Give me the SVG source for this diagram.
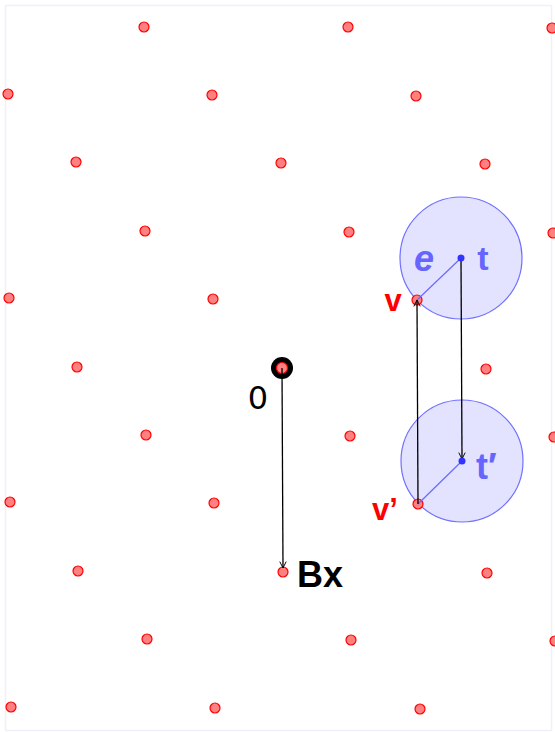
<svg xmlns="http://www.w3.org/2000/svg" width="555" height="732" viewBox="0 0 555 732">
<style>
.pt{fill:#ff8080;stroke:#ff0000;stroke-width:1.2}
.arr{stroke:#000;stroke-width:1.3;fill:none;marker-end:url(#ah)}
.disc{fill:#8080ff;fill-opacity:0.22;stroke:#7070ff;stroke-width:1.2}
.rad{stroke:#6a6aff;stroke-width:1.2}
.ctr{fill:#3333ff}
.lb{font-family:"Liberation Sans",Arial,sans-serif;font-weight:bold}
</style>
<defs>
<marker id="ah" viewBox="0 0 10 10" refX="9" refY="5" markerWidth="8" markerHeight="8" markerUnits="userSpaceOnUse" orient="auto">
<path d="M1,1 L9,5 L1,9" fill="none" stroke="#000" stroke-width="1.2"/>
</marker>
</defs>
<rect x="5.5" y="5.5" width="546" height="725" fill="#fff" stroke="#f0f0fa" stroke-width="1.5"/>
<g id="discs">
<circle class="disc" cx="461" cy="258" r="61"/>
<circle class="disc" cx="462" cy="461" r="61"/>
</g>
<g id="lattice">
<circle class="pt" cx="144" cy="27" r="5"/><circle class="pt" cx="348" cy="27" r="5"/><circle class="pt" cx="552" cy="28" r="5"/>
<circle class="pt" cx="8" cy="94" r="5"/><circle class="pt" cx="212" cy="95" r="5"/><circle class="pt" cx="416" cy="96" r="5"/>
<circle class="pt" cx="76" cy="162" r="5"/><circle class="pt" cx="281" cy="163" r="5"/><circle class="pt" cx="485" cy="164" r="5"/>
<circle class="pt" cx="145" cy="231" r="5"/><circle class="pt" cx="349" cy="232" r="5"/><circle class="pt" cx="553" cy="233" r="5"/>
<circle class="pt" cx="9" cy="298" r="5"/><circle class="pt" cx="213" cy="299" r="5"/><circle class="pt" cx="417" cy="300" r="5"/>
<circle class="pt" cx="77" cy="367" r="5"/><circle class="pt" cx="486" cy="369" r="5"/>
<circle class="pt" cx="146" cy="435" r="5"/><circle class="pt" cx="350" cy="436" r="5"/><circle class="pt" cx="554" cy="437" r="5"/>
<circle class="pt" cx="10" cy="502" r="5"/><circle class="pt" cx="214" cy="503" r="5"/><circle class="pt" cx="418" cy="504" r="5"/>
<circle class="pt" cx="78" cy="571" r="5"/><circle class="pt" cx="283" cy="572" r="5"/><circle class="pt" cx="487" cy="573" r="5"/>
<circle class="pt" cx="147" cy="639" r="5"/><circle class="pt" cx="351" cy="640" r="5"/><circle class="pt" cx="555" cy="641" r="5"/>
<circle class="pt" cx="11" cy="707" r="5"/><circle class="pt" cx="215" cy="708" r="5"/><circle class="pt" cx="420" cy="709" r="5"/>
</g>
<g id="origin">
<circle cx="282" cy="368" r="11" fill="#000"/>
<circle class="pt" cx="282" cy="368" r="5.5"/>
<text x="258" y="409" font-family="DejaVu Sans,sans-serif" font-size="32" text-anchor="middle" fill="#000">0</text>
</g>
<g id="connectors">
<line class="rad" x1="461" y1="258" x2="417" y2="300"/>
<line class="rad" x1="462" y1="461" x2="418" y2="504"/>
<line class="arr" x1="282" y1="368" x2="283" y2="568"/>
<line class="arr" x1="418" y1="504" x2="417" y2="300"/>
<line class="arr" x1="461" y1="258" x2="462" y2="459"/>
</g>
<g id="t">
<circle class="ctr" cx="461" cy="258" r="3.5"/>
<text class="lb" x="483" y="270" font-size="34" text-anchor="middle" fill="#6666ff">t</text>
<text class="lb" x="424" y="271" font-size="36" text-anchor="middle" fill="#6666ff" font-style="italic">e</text>
</g>
<g id="tprime">
<circle class="ctr" cx="462" cy="461" r="3.5"/>
<text class="lb" x="476" y="479" font-size="36" fill="#6666ff">t′</text>
</g>
<g id="v">
<text class="lb" x="393" y="311" font-size="31" text-anchor="middle" fill="#ff0000">v</text>
</g>
<g id="vprime">
<text class="lb" x="372" y="520" font-size="31" fill="#ff0000">v’</text>
</g>
<g id="Bx">
<text class="lb" x="297" y="587" font-size="36" fill="#000">Bx</text>
</g>
</svg>
